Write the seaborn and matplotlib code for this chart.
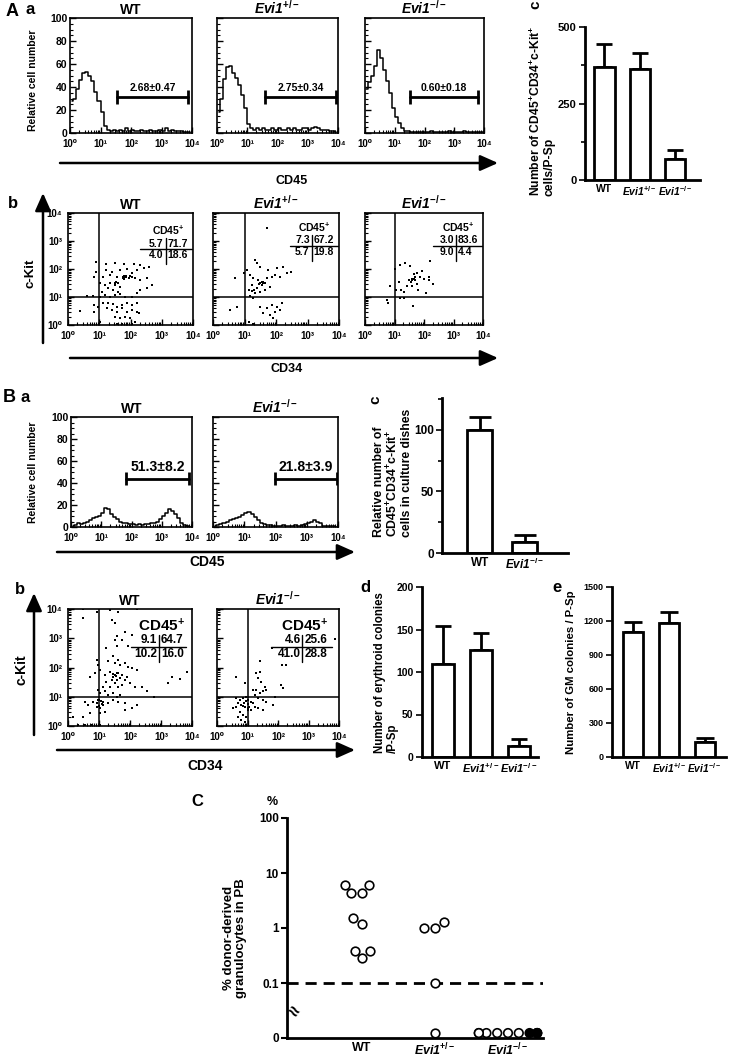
"""
Evi1 P-Sp figure: CD45 histograms, CD34/c-Kit dot plots, colony counts, PB chimerism
"""
import numpy as np
import pandas as pd
import matplotlib
matplotlib.use('Agg')
import matplotlib.pyplot as plt
from matplotlib.ticker import FixedLocator, MultipleLocator, NullLocator
import seaborn as sns

W, H = 730, 1061

WT = 'WT'
HET = 'Evi1$^{+/-}$'
KO = 'Evi1$^{-/-}$'
DECADES = ['10\u2070', '10\u00b9', '10\u00b2', '10\u00b3', '10\u2074']

# CD45 histogram channels, log10 units, 0.1-decade bins
BIN_CENTERS = np.arange(40) * 0.1 + 0.05

# A-a  CD45 histograms (relative cell number)
aa_wt = [28, 30, 38, 46, 52, 53, 50, 45, 36, 28, 18, 6, 3, 2, 3, 2, 3, 2, 4, 2,
         3, 2, 2, 3, 2, 2, 3, 2, 2, 3, 2, 4, 2, 3, 2, 2, 2, 1, 1, 1]
aa_het = [18, 30, 47, 57, 58, 52, 48, 42, 33, 22, 8, 4, 3, 4, 3, 4, 3, 3, 4, 3,
          4, 3, 3, 4, 3, 4, 3, 3, 4, 4, 3, 4, 5, 4, 3, 3, 3, 2, 2, 1]
aa_ko = [38, 44, 50, 58, 72, 65, 55, 45, 35, 22, 14, 9, 4, 2, 2, 1, 1, 1, 1, 1,
         1, 1, 2, 1, 1, 1, 1, 1, 2, 1, 1, 1, 1, 2, 1, 1, 1, 1, 1, 1]
aa_gate_lo = [1.54, 1.60, 1.51]
aa_gate_hi = [3.87, 3.93, 3.80]
aa_gate_pct = ['2.68\u00b10.47', '2.75\u00b10.34', '0.60\u00b10.18']

# A-b  CD34 / c-Kit dot plots (log10 CD34, log10 c-Kit)
ab_wt = [(0.91, 2.26), (1.20, 2.18), (1.51, 2.23), (1.80, 2.17), (2.10, 2.18), (2.31, 2.14),
         (2.44, 2.02), (2.58, 2.08), (1.22, 1.96), (1.40, 1.90), (1.67, 1.96), (1.88, 2.00),
         (2.04, 1.85), (2.20, 1.96), (0.91, 1.90), (0.83, 1.73), (1.13, 1.73), (1.34, 1.79),
         (1.56, 1.70), (1.83, 1.73), (1.99, 1.75), (2.15, 1.67), (2.31, 1.61), (2.53, 1.67),
         (2.69, 1.43), (1.02, 1.49), (1.18, 1.43), (1.34, 1.49), (1.51, 1.43), (1.61, 1.49),
         (1.77, 1.67), (1.86, 1.75), (1.94, 1.67), (2.04, 1.73), (1.67, 1.37), (1.29, 1.31),
         (1.45, 1.25), (1.61, 1.19), (1.08, 1.19), (1.18, 1.07), (1.34, 1.01), (1.51, 1.07),
         (1.67, 1.11), (1.83, 1.01), (2.04, 1.01), (2.20, 1.13), (2.31, 1.25), (2.53, 1.31),
         (0.61, 1.04), (0.81, 1.05), (1.02, 1.01), (0.38, 0.49), (0.83, 0.71), (0.84, 0.48),
         (0.97, 0.65), (1.13, 0.77), (1.29, 0.80), (1.45, 0.75), (1.58, 0.65), (1.72, 0.71),
         (1.88, 0.77), (2.04, 0.71), (2.20, 0.80), (1.24, 0.60), (1.40, 0.54), (1.56, 0.48),
         (1.72, 0.60), (1.88, 0.48), (2.04, 0.54), (2.20, 0.48), (1.51, 0.30), (1.67, 0.24),
         (1.83, 0.30), (1.99, 0.24), (1.56, 0.05), (1.72, 0.02), (2.04, 0.03), (2.15, 0.12),
         (2.26, 0.42), (1.02, 0.12), (1.75, 1.70), (1.80, 1.75), (1.85, 1.70), (1.80, 1.65),
         (1.55, 1.55), (1.50, 1.50)]
ab_het = [(1.71, 3.45), (1.34, 2.32), (1.41, 2.20), (1.49, 2.08), (1.76, 1.96), (2.02, 2.02),
          (2.23, 2.08), (2.49, 1.90), (2.34, 1.85), (0.71, 1.67), (0.97, 1.85), (1.07, 1.96),
          (1.18, 1.79), (1.28, 1.67), (1.44, 1.61), (1.60, 1.55), (1.71, 1.67), (1.86, 1.73),
          (1.97, 1.79), (2.13, 1.73), (1.23, 1.43), (1.39, 1.31), (1.55, 1.43), (1.65, 1.49),
          (1.81, 1.37), (1.34, 1.13), (1.49, 1.19), (1.65, 1.25), (1.18, 1.04), (1.28, 0.95),
          (1.13, 1.25), (0.76, 0.65), (0.55, 0.54), (1.49, 0.65), (1.71, 0.60), (1.86, 0.71),
          (2.02, 0.65), (2.18, 0.77), (1.60, 0.42), (1.81, 0.36), (1.97, 0.48), (2.13, 0.54),
          (1.28, 0.02), (1.13, 0.12), (1.92, 0.24), (1.50, 1.50), (1.55, 1.55), (1.45, 1.45),
          (1.60, 1.50), (1.30, 1.25), (1.25, 1.20)]
ab_ko = [(2.19, 2.28), (1.19, 2.16), (1.36, 2.22), (1.53, 2.10), (1.02, 1.99), (1.93, 1.93),
         (1.65, 1.82), (1.76, 1.87), (1.70, 1.70), (1.59, 1.64), (1.48, 1.59), (1.88, 1.70),
         (1.99, 1.64), (2.16, 1.70), (2.16, 1.59), (2.31, 1.45), (1.42, 1.41), (1.59, 1.41),
         (1.76, 1.47), (1.14, 1.53), (0.85, 1.41), (1.06, 1.24), (1.23, 1.24), (1.31, 1.18),
         (1.78, 1.24), (2.08, 1.13), (1.17, 0.95), (1.31, 0.98), (0.74, 0.90), (0.77, 0.80),
         (1.63, 0.69), (1.60, 1.60), (1.65, 1.65), (1.70, 1.62), (1.55, 1.55)]
ab_quads = [[5.7, 71.7, 4.0, 18.6], [7.3, 67.2, 5.7, 19.8], [3.0, 83.6, 9.0, 4.4]]

# A-c  CD45+CD34+c-Kit+ cells per P-Sp
ac_mean = [369, 363, 69]
ac_sem = [75, 52, 29]

# B-a  CD45 histograms after culture
ba_wt = [1, 2, 4, 3, 4, 5, 6, 8, 9, 10, 13, 17, 16, 12, 9, 7, 5, 4, 4, 3,
         3, 2, 3, 2, 3, 3, 4, 4, 5, 7, 10, 13, 16, 15, 12, 8, 4, 2, 1, 0]
ba_ko = [1, 2, 3, 4, 5, 6, 7, 8, 9, 11, 13, 14, 12, 9, 6, 4, 3, 2, 2, 1,
         1, 1, 2, 1, 1, 1, 2, 1, 2, 3, 4, 5, 6, 5, 4, 1, 1, 1, 1, 0]
ba_gate_lo = [1.82, 1.98]
ba_gate_hi = [3.90, 3.98]
ba_gate_pct = ['51.3\u00b18.2', '21.8\u00b13.9']

# B-b  CD34 / c-Kit dot plots after culture
bb_wt = [(0.49, 4.0), (0.92, 3.89), (1.35, 3.98), (1.62, 3.90), (2.24, 4.0), (0.49, 3.69),
         (1.41, 3.63), (1.51, 3.52), (1.84, 3.23), (1.57, 3.06), (1.73, 2.95), (1.95, 2.72),
         (2.05, 3.12), (0.92, 2.26), (0.97, 2.09), (1.30, 2.21), (1.46, 2.38), (1.62, 2.26),
         (1.51, 2.15), (1.68, 2.09), (1.84, 2.15), (1.95, 2.03), (2.05, 1.98), (2.22, 1.92),
         (0.70, 1.69), (0.86, 1.81), (1.03, 1.92), (1.19, 1.75), (1.35, 1.86), (1.46, 1.69),
         (1.57, 1.81), (1.68, 1.63), (1.73, 1.75), (1.84, 1.58), (1.89, 1.69), (2.00, 1.46),
         (2.16, 1.35), (2.38, 1.35), (2.54, 1.18), (3.35, 1.69), (3.62, 1.60), (3.84, 1.86),
         (3.24, 1.46), (2.76, 0.98), (1.24, 1.52), (1.35, 1.35), (1.51, 1.46), (1.62, 1.35),
         (1.73, 1.41), (1.57, 1.58), (1.41, 1.58), (1.14, 1.35), (0.97, 1.23), (1.03, 1.12),
         (1.19, 1.18), (1.30, 1.06), (1.46, 1.12), (1.57, 1.00), (1.68, 1.06), (0.97, 0.89),
         (1.14, 0.83), (1.30, 0.78), (0.92, 0.78), (0.81, 0.83), (0.65, 0.72), (0.54, 0.83),
         (0.92, 0.66), (1.03, 0.61), (1.14, 0.72), (1.46, 0.89), (1.62, 0.83), (1.84, 0.78),
         (0.70, 0.43), (0.49, 0.32), (0.16, 0.32), (1.03, 0.43), (1.19, 0.49), (0.32, 0.02),
         (0.54, 0.03), (0.76, 0.02), (1.03, 0.03), (1.84, 0.55), (2.05, 0.61), (2.22, 0.72),
         (1.57, 2.72), (1.24, 2.66), (1.51, 2.95), (1.50, 1.75), (1.55, 1.70), (1.60, 1.80),
         (1.45, 1.78), (1.05, 0.85), (1.00, 0.90), (1.10, 0.75), (1.00, 0.70)]
bb_ko = [(3.86, 2.97), (1.81, 2.66), (2.14, 2.09), (2.27, 2.09), (1.42, 2.21), (0.63, 1.69),
         (0.91, 1.46), (1.29, 1.81), (1.40, 1.86), (1.34, 1.63), (1.45, 1.52), (1.56, 1.35),
         (1.62, 1.23), (1.51, 1.18), (2.11, 1.41), (2.16, 1.29), (1.18, 1.23), (1.29, 1.23),
         (1.40, 1.12), (1.23, 1.06), (1.34, 0.95), (1.51, 0.89), (1.62, 0.83), (1.84, 0.72),
         (1.89, 1.00), (0.63, 0.95), (0.74, 0.89), (0.85, 0.95), (0.96, 1.00), (1.02, 0.89),
         (1.13, 0.83), (0.69, 0.78), (0.80, 0.72), (0.91, 0.66), (1.02, 0.61), (1.13, 0.55),
         (1.23, 0.66), (1.34, 0.61), (1.51, 0.55), (0.74, 0.49), (0.85, 0.38), (0.96, 0.32),
         (0.69, 0.32), (0.80, 0.21), (0.91, 0.15), (1.02, 0.55), (0.63, 0.66), (0.52, 0.61),
         (1.18, 0.78), (0.90, 0.80), (0.95, 0.85), (1.00, 0.75), (0.85, 0.70), (1.05, 0.65)]
bb_quads = [[9.1, 64.7, 10.2, 16.0], [4.6, 25.6, 41.0, 28.8]]

# B-c/d/e  culture and colony assays
bc_mean = [100, 9]
bc_sem = [10.6, 5.6]
bd_mean = [110, 126, 13]
bd_sem = [44, 20, 8]
be_mean = [1103, 1182, 132]
be_sem = [88, 97, 36]

# C  % donor-derived granulocytes in PB (0 = undetected)
c_wt = [6.0, 6.0, 4.3, 4.3, 1.5, 1.2, 0.38, 0.38, 0.28]
c_het = [1.3, 1.0, 1.0, 0.1, 0]
c_ko = [0, 0, 0, 0, 0, 0, 0, 0, 0, 0]
c_ko_filled = [False, False, False, False, False, False, True, True, True, True]
ZERO_LEVEL = 0.0123

sns.set_style('ticks')
plt.rcParams['font.family'] = ['Liberation Sans', 'DejaVu Sans']
plt.rcParams['font.weight'] = 'bold'
plt.rcParams['mathtext.fontset'] = 'custom'
plt.rcParams['mathtext.rm'] = 'Liberation Sans:bold'
plt.rcParams['mathtext.it'] = 'Liberation Sans:italic:bold'
plt.rcParams['mathtext.bf'] = 'Liberation Sans:bold'
for key in ['text.color', 'axes.labelcolor', 'xtick.color', 'ytick.color', 'axes.edgecolor']:
    plt.rcParams[key] = 'black'
plt.rcParams['axes.linewidth'] = 1.2

fig = plt.figure(figsize=(W / 100, H / 100), dpi=100)
LOG_MINOR = [d + np.log10(k) for d in range(4) for k in range(2, 10)]


def px_axes(l, t, r, b):
    return fig.add_axes([l / W, 1 - b / H, (r - l) / W, (b - t) / H])


def geno_title(ax, text, fs=10):
    style = 'italic' if text.startswith('Evi1') else 'normal'
    ax.set_title(text, fontsize=fs, fontweight='bold', fontstyle=style, pad=3)


def log_x(ax):
    ax.set_xlim(0, 4)
    ax.set_xticks(range(5), DECADES, fontsize=7)
    ax.xaxis.set_minor_locator(FixedLocator(LOG_MINOR))
    ax.tick_params(which='major', direction='in', length=4, width=1, pad=4)
    ax.tick_params(which='minor', direction='in', length=2, width=0.8)
    ax.set_xlabel('')
    ax.set_ylabel('')


def hist_panel(ax, counts, lo, hi, pct, title, show_y, level, fs):
    sns.lineplot(x=BIN_CENTERS, y=counts, drawstyle='steps-mid', color='black',
                 linewidth=1.1, ax=ax)
    ax.plot([lo, hi], [level, level], color='black', lw=2)
    ax.vlines([lo, hi], level - 6, level + 6, color='black', lw=2)
    ax.text((lo + hi) / 2, level + 4, pct, ha='center', va='bottom', fontsize=fs)
    log_x(ax)
    ax.set_ylim(0, 100)
    ax.set_yticks(range(0, 101, 20))
    ax.yaxis.set_minor_locator(MultipleLocator(5))
    if not show_y:
        ax.set_yticklabels([])
    ax.tick_params(axis='y', labelsize=7.5, pad=2)
    geno_title(ax, title)


def quad_box(ax, vals, x0, x1, cx, cy, fs, label_fs):
    kw = dict(transform=ax.transAxes, color='black', lw=1.0)
    ax.plot([x0, x1], [cy, cy], **kw)
    ax.plot([cx, cx], [cy + 0.10, cy - 0.13], **kw)
    tkw = dict(transform=ax.transAxes, fontsize=fs)
    ax.text(cx - 0.015, cy + 0.006, f'{vals[0]:.1f}', ha='right', va='bottom', **tkw)
    ax.text(cx + 0.015, cy + 0.006, f'{vals[1]:.1f}', ha='left', va='bottom', **tkw)
    ax.text(cx - 0.015, cy - 0.008, f'{vals[2]:.1f}', ha='right', va='top', **tkw)
    ax.text(cx + 0.015, cy - 0.008, f'{vals[3]:.1f}', ha='left', va='top', **tkw)
    ax.text(cx + 0.02, cy + 0.11, 'CD45$^{+}$', ha='center', va='bottom',
            fontsize=label_fs, transform=ax.transAxes)


def dot_panel(ax, pts, title, show_y):
    df = pd.DataFrame(pts, columns=['cd34', 'ckit'])
    sns.scatterplot(data=df, x='cd34', y='ckit', marker='s', s=4, color='black',
                    linewidth=0, ax=ax)
    ax.axvline(1, color='black', lw=1.1)
    ax.axhline(1, color='black', lw=1.1)
    log_x(ax)
    ax.set_ylim(0, 4)
    ax.set_yticks(range(5), DECADES if show_y else [''] * 5, fontsize=7)
    ax.yaxis.set_minor_locator(FixedLocator(LOG_MINOR))
    ax.tick_params(which='both', direction='in')
    geno_title(ax, title)


def geno_ticks(ax, labels, fs, pad):
    ax.set_xticks(range(len(labels)))
    ax.set_xticklabels(labels, fontsize=fs, fontweight='bold')
    for t in ax.get_xticklabels():
        if t.get_text().startswith('Evi1'):
            t.set_fontstyle('italic')
    ax.tick_params(axis='x', length=0, pad=pad)


def bar_panel(ax, labels, means, sems, width, cap, xlim, ylim, yticks, fs, xfs):
    df = pd.DataFrame({'genotype': labels, 'value': means})
    sns.barplot(data=df, x='genotype', y='value', color='white', edgecolor='black',
                linewidth=2, width=width, errorbar=None, ax=ax, zorder=2)
    ax.errorbar(np.arange(len(means)), means, yerr=[np.zeros(len(sems)), sems],
                fmt='none', ecolor='black', elinewidth=2, capsize=cap, capthick=2, zorder=1)
    ax.set_xlim(*xlim)
    ax.set_ylim(*ylim)
    ax.set_yticks(yticks)
    ax.tick_params(axis='y', labelsize=fs, length=4, width=1.2, pad=2)
    ax.set_xlabel('')
    ax.set_ylabel('')
    sns.despine(ax=ax)
    for s in ax.spines.values():
        s.set_linewidth(2)
    geno_ticks(ax, labels, xfs, 3)


# ---------------- A ----------------
aa_axes = [px_axes(70, 18, 192, 133), px_axes(217, 18, 338, 133), px_axes(365, 18, 484, 133)]
for i, (ax, counts, title) in enumerate(zip(aa_axes, [aa_wt, aa_het, aa_ko], [WT, HET, KO])):
    hist_panel(ax, counts, aa_gate_lo[i], aa_gate_hi[i], aa_gate_pct[i], title,
               i == 0, 31, 7.5)

ab_axes = [px_axes(68, 213, 193, 325), px_axes(213, 213, 339, 325), px_axes(365, 213, 483, 325)]
ab_cross = [(0.576, 0.99, 0.78, 0.676), (0.61, 1.0, 0.783, 0.705), (0.58, 1.0, 0.77, 0.705)]
for i, (ax, pts, title) in enumerate(zip(ab_axes, [ab_wt, ab_het, ab_ko], [WT, HET, KO])):
    dot_panel(ax, pts, title, i == 0)
    quad_box(ax, ab_quads[i], *ab_cross[i], 7.5, 7.5)

ax_ac = px_axes(585, 27, 700, 180)
bar_panel(ax_ac, [WT, HET, KO], ac_mean, ac_sem, 0.58, 6, (-0.55, 2.7), (0, 500),
          [0, 250, 500], 8, 7.5)
ax_ac.yaxis.set_minor_locator(FixedLocator([125, 375]))
ax_ac.tick_params(axis='y', which='minor', length=3, width=1.2)

# ---------------- B ----------------
ba_axes = [px_axes(71, 417, 192, 527), px_axes(213, 417, 338, 527)]
for i, (ax, counts, title) in enumerate(zip(ba_axes, [ba_wt, ba_ko], [WT, KO])):
    hist_panel(ax, counts, ba_gate_lo[i], ba_gate_hi[i], ba_gate_pct[i], title,
               i == 0, 44, 10)

bb_axes = [px_axes(68, 609, 192, 726), px_axes(217, 609, 339, 726)]
bb_cross = [(0.51, 0.95, 0.735, 0.675), (0.44, 0.94, 0.70, 0.675)]
for i, (ax, pts, title) in enumerate(zip(bb_axes, [bb_wt, bb_ko], [WT, KO])):
    dot_panel(ax, pts, title, i == 0)
    quad_box(ax, bb_quads[i], *bb_cross[i], 8.5, 11)

ax_bc = px_axes(442, 398, 568, 553)
bar_panel(ax_bc, [WT, KO], bc_mean, bc_sem, 0.55, 8, (-0.84, 1.96), (0, 126),
          [0, 50, 100], 8.5, 8.5)
ax_bc.yaxis.set_minor_locator(FixedLocator([25, 75, 125]))
ax_bc.tick_params(axis='y', which='minor', length=3, width=1.2)

ax_bd = px_axes(422, 587, 538, 757)
bar_panel(ax_bd, [WT, HET, KO], bd_mean, bd_sem, 0.58, 5.5, (-0.55, 2.5), (0, 200),
          [0, 50, 100, 150, 200], 7.5, 8)

ax_be = px_axes(612, 587, 726, 757)
bar_panel(ax_be, [WT, HET, KO], be_mean, be_sem, 0.56, 6.5, (-0.59, 2.6), (0, 1500),
          [0, 300, 600, 900, 1200, 1500], 6.5, 7.4)

# ---------------- C ----------------
ax_c = px_axes(287, 818, 543, 1038)
ax_c.set_yscale('log')
dfc = pd.DataFrame({
    'genotype': [WT] * len(c_wt) + [HET] * len(c_het) + [KO] * len(c_ko),
    'pct': c_wt + c_het + c_ko,
})
dfc['plot_pct'] = dfc['pct'].where(dfc['pct'] > 0, ZERO_LEVEL)
sns.swarmplot(data=dfc, x='genotype', y='plot_pct', order=[WT, HET, KO], color='white',
              edgecolor='black', linewidth=1.2, size=6.2, ax=ax_c)
ax_c.axhline(0.1, color='black', lw=2, ls=(0, (4, 2.5)))
ax_c.set_xlim(-1.03, 2.48)
ax_c.set_ylim(0.01, 100)
ax_c.yaxis.set_major_locator(FixedLocator([0.01, 0.1, 1, 10, 100]))
ax_c.yaxis.set_minor_locator(NullLocator())
ax_c.set_yticklabels(['0', '0.1', '1', '10', '100'])
ax_c.tick_params(axis='y', labelsize=8.5, length=4, width=1.5, pad=2)
ax_c.set_xlabel('')
ax_c.set_ylabel('')
sns.despine(ax=ax_c)
for s in ax_c.spines.values():
    s.set_linewidth(2)
geno_ticks(ax_c, [WT, HET, KO], 9, 3)

# fill the knockout circles from the right end of the swarm
fig.canvas.draw()
for coll in ax_c.collections:
    off = np.asarray(coll.get_offsets())
    if len(off) == len(c_ko) and abs(np.median(off[:, 0]) - 2) < 0.3:
        order = np.argsort(off[:, 0])
        flags = sorted(c_ko_filled)
        faces = ['white'] * len(off)
        for rank, idx in enumerate(order):
            faces[idx] = 'black' if flags[rank] else 'white'
        coll.set_facecolors(faces)

# ---------------- overlay: panel letters, arrows, axis names ----------------
ov = fig.add_axes([0, 0, 1, 1], zorder=10)
ov.set_xlim(0, W)
ov.set_ylim(H, 0)
ov.axis('off')
ov.patch.set_visible(False)


def arrow(x0, y0, x1, y1):
    ov.annotate('', xy=(x1, y1), xytext=(x0, y0),
                arrowprops=dict(arrowstyle='-|>,head_length=0.9,head_width=0.4', lw=1.8,
                                color='black', mutation_scale=12, shrinkA=0, shrinkB=0))


def txt(x, y, s, fs, rot=0, **kw):
    kw.setdefault('ha', 'center')
    kw.setdefault('va', 'center')
    ov.text(x, y, s, fontsize=fs, rotation=rot, fontweight='bold', **kw)


txt(12, 12, 'A', 13)
txt(30, 10, 'a', 12)
txt(33, 80, 'Relative cell number', 7.5, 90)
arrow(60, 163, 498, 163)
txt(292, 181, 'CD45', 9)
txt(13, 203, 'b', 12)
arrow(43, 343, 43, 193)
txt(30, 273, 'c-Kit', 9.5, 90)
arrow(70, 358, 498, 358)
txt(287, 369, 'CD34', 9)
txt(535, 5, 'c', 11, 90)
txt(542, 196, 'Number of CD45$^{+}$CD34$^{+}$c-Kit$^{+}$\ncells/P-Sp', 8.7, 90,
    va='bottom', multialignment='left', linespacing=1.0)

txt(9, 398, 'B', 13)
txt(25, 398, 'a', 12)
txt(33, 472, 'Relative cell number', 7.5, 90)
arrow(57, 552, 355, 552)
txt(207, 562, 'CD45', 10)
txt(20, 590, 'b', 12)
arrow(34, 735, 34, 593)
txt(22, 670, 'c-Kit', 10, 90)
arrow(57, 750, 355, 750)
txt(205, 766, 'CD34', 10)
txt(375, 400, 'c', 11, 90)
txt(393, 537, 'Relative number of\nCD45$^{+}$CD34$^{+}$c-Kit$^{+}$\ncells in culture dishes', 8.8, 90,
    va='bottom', multialignment='left', linespacing=1.0)
txt(365, 588, 'd', 12)
txt(386, 753, 'Number of erythroid colonies\n/P-Sp', 8.3, 90, va='bottom',
    multialignment='left', linespacing=1.1)
txt(557, 588, 'e', 12)
txt(571, 672, 'Number of GM colonies / P-Sp', 8.2, 90)

txt(197, 802, 'C', 12)
txt(272, 802, '%', 9)
txt(235, 938, '% donor-derived\ngranulocytes in PB', 9.5, 90, linespacing=1.1)
txt(292, 1013, '\u2248', 14, -35)

fig.savefig('out.png', dpi=100)
